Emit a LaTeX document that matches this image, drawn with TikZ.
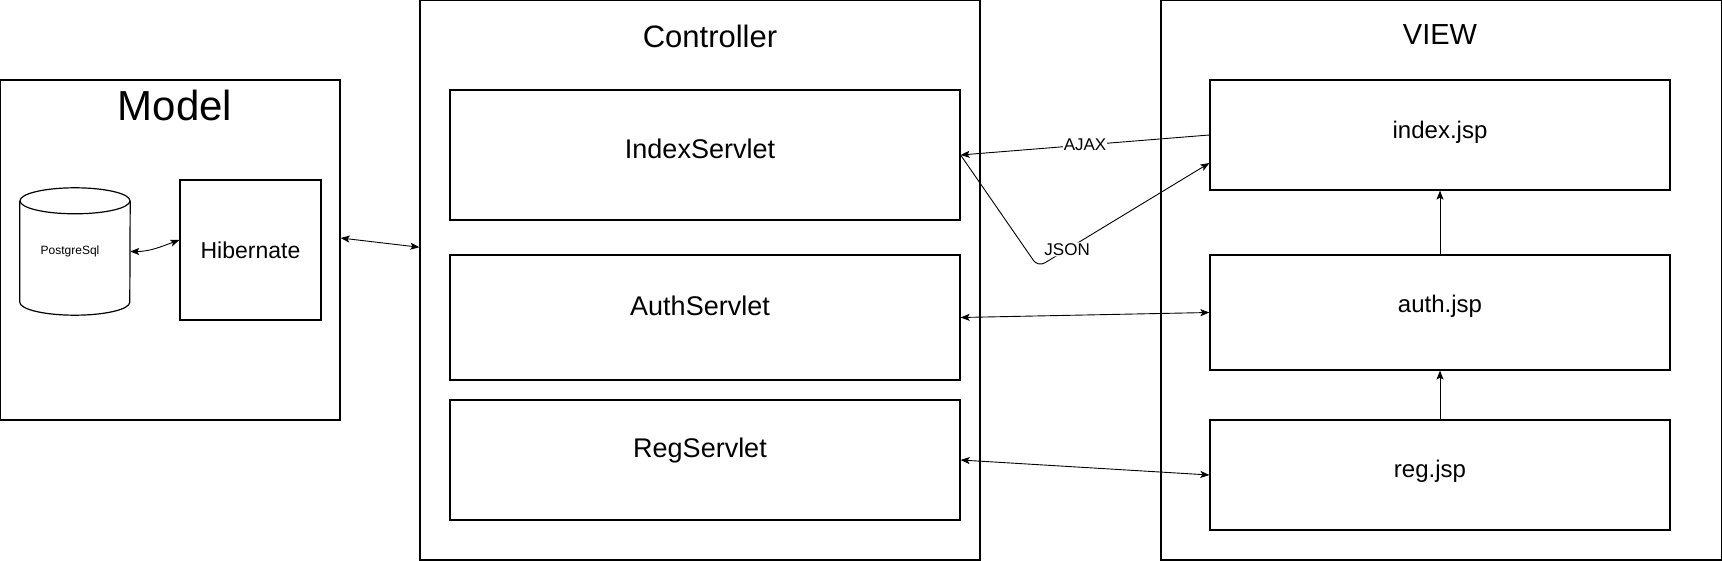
\documentclass[tikz,border=0pt]{standalone}
\usepackage{fontspec}
\setmainfont{Liberation Sans}
\usetikzlibrary{arrows.meta}
\def\fsz#1{\fontsize{#1}{#1}\selectfont}
\tikzset{
	box/.style={draw, line width=1.2pt, inner sep=0pt},
	uni/.style={line width=0.9pt, -{Stealth[length=9pt,width=7pt,inset=2pt]}},
	bi/.style={line width=0.9pt, {Stealth[length=9pt,width=7pt,inset=2pt]}-{Stealth[length=9pt,width=7pt,inset=2pt]}},
	tag/.style={fill=white, inner sep=1pt, font=\fsz{17}}
}

\begin{document}
\begin{tikzpicture}[x=1pt, y=-1pt]
			%%%%% START %%%%%
			\useasboundingbox (0, 0) rectangle (1722, 561);
			
			%%%%% MODEL %%%%%
			\node[box, minimum width=339.5pt, minimum height=340pt] (model) at (170.25, 250) {};
			\node[font=\fsz{42}] (modelT) at (175, 105) {Model};
			
			\node[minimum width=110pt, minimum height=127pt, inner sep=0pt, label={[font=\fsz{12}, xshift=-5pt]center:PostgreSql}] (pg) at (75, 251.5) {};
			\draw[line width=1.2pt] ([yshift=-13pt]pg.north) ellipse [x radius=55pt, y radius=13pt];
			\draw[line width=1.2pt] ([yshift=-13pt]pg.north west) -- ([yshift=13pt]pg.south west) arc [start angle=180, end angle=360, x radius=55pt, y radius=13pt] -- ([yshift=-13pt]pg.north east);
			
			\node[box, minimum width=141pt, minimum height=140pt, font=\fsz{23}] (hib) at (250.5, 250) {Hibernate};
			
			%%%%% CONTROLLER %%%%%
			\node[box, minimum width=560pt, minimum height=559.5pt] (ctrl) at (700, 280.25) {};
			\node[font=\fsz{31}] (ctrlT) at (710, 36) {Controller};
			
			\node[box, minimum width=510pt, minimum height=130pt, label={[font=\fsz{27}, xshift=-5pt, yshift=6pt]center:IndexServlet}] (indexS) at (705, 155) {};
			\node[box, minimum width=510pt, minimum height=125pt, label={[font=\fsz{27}, xshift=-5pt, yshift=12pt]center:AuthServlet}] (authS) at (705, 317.5) {};
			\node[box, minimum width=510pt, minimum height=120pt, label={[font=\fsz{27}, xshift=-5pt, yshift=9pt]center:RegServlet}] (regS) at (705, 460) {};
			
			%%%%% VIEW %%%%%
			\node[box, minimum width=560.5pt, minimum height=559.5pt] (view) at (1441.25, 280.25) {};
			\node[font=\fsz{29}] (viewT) at (1440, 35) {VIEW};
			
			\node[box, minimum width=460pt, minimum height=110pt, label={[font=\fsz{24}, yshift=3pt]center:index.jsp}] (idx) at (1440, 135) {};
			\node[box, minimum width=460pt, minimum height=115pt, label={[font=\fsz{24}, yshift=6pt]center:auth.jsp}] (auth) at (1440, 312.5) {};
			\node[box, minimum width=460pt, minimum height=110pt, label={[font=\fsz{24}, xshift=-10pt, yshift=4pt]center:reg.jsp}] (reg) at (1440, 475) {};
			
			%%%%% LINKS %%%%%
			\draw[bi] (pg.east) to[out=0, in=200] ([yshift=10pt]hib.west);
			\draw[bi] ([yshift=12pt]model.east) -- ([yshift=33pt]ctrl.west);
			
			\draw[uni] (idx.west) -- node[tag, midway] {AJAX} (indexS.east);
			\draw[uni, rounded corners=8pt] (indexS.east) -- (1038, 267) -- node[tag, pos=0.17] {JSON} ([yshift=-28pt]idx.west);
			
			\draw[bi] (authS.east) -- (auth.west);
			\draw[bi] (regS.east) -- (reg.west);
			
			\draw[uni] (auth.north) -- (idx.south);
			\draw[uni] (reg.north) -- (auth.south);
			%%%%% END %%%%%
		\end{tikzpicture}
\end{document}
